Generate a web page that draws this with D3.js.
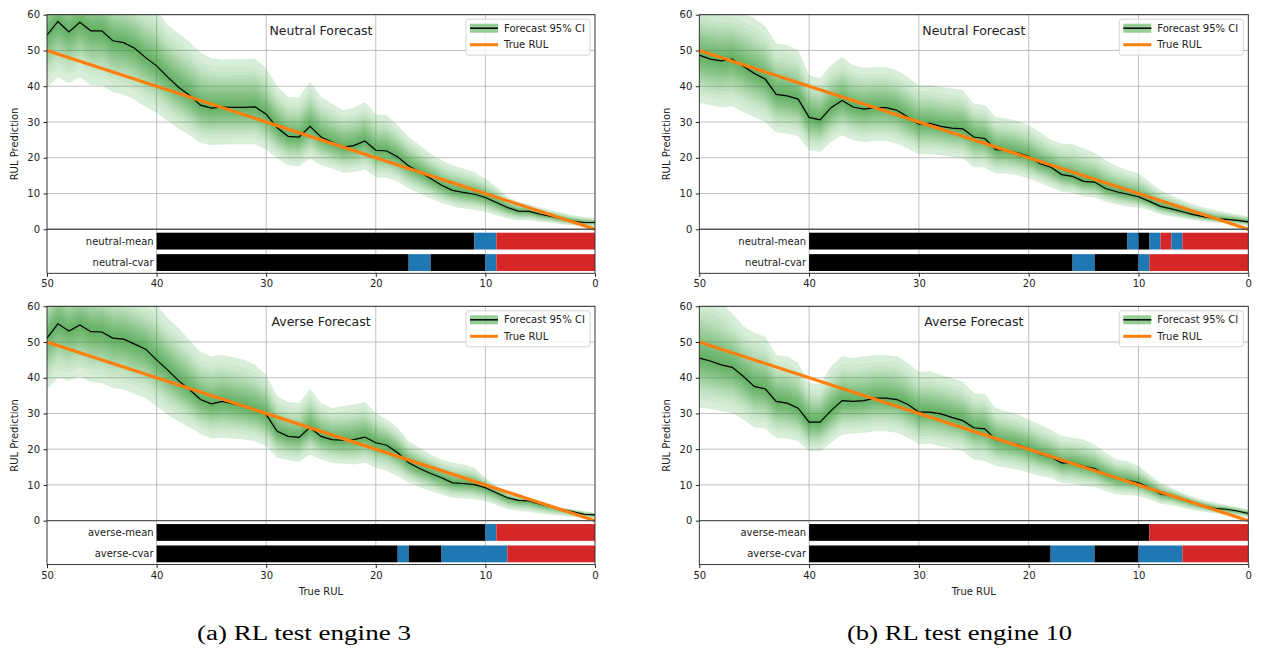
<!DOCTYPE html>
<meta charset="utf-8">
<style>
body { margin: 0; background: #fff; }
text { font-family: "DejaVu Sans", sans-serif; fill: #222; }
.caption { font-family: "Liberation Serif", serif; font-size: 20.5px; fill: #000; }
</style>
<svg width="1261" height="648"></svg>
<script src="https://d3js.org/d3.v7.min.js"></script>
<script>
// RUL steps along the x axis (left = 50, right = 0)
var rulSteps = [50,49,48,47,46,45,44,43,42,41,40,39,38,37,36,35,34,33,32,31,30,29,28,27,26,25,24,23,22,21,20,19,18,17,16,15,14,13,12,11,10,9,8,7,6,5,4,3,2,1,0];
var trueRulEnds = [50, 0];

// engine 3, neutral forecast
var e3NeutralMean = [54.3,58.1,55.2,57.9,55.5,55.5,52.7,52.2,50.6,48.0, 45.7,42.6,39.7,37.5,34.7,33.9,34.2,34.1,34.1,34.2, 32.2,28.4,26.0,25.8,28.8,25.8,24.4,23.0,23.4,24.7, 22.1,21.9,20.2,17.7,16.0,14.2,12.3,10.9,10.3,9.8, 8.9,7.5,6.1,5.1,5.0,4.2,3.6,2.9,2.3,1.9, 1.9];
var e3NeutralUpper = [69,73.5,69.6,73.2,70.7,70.7,67,66.7,64.9,63, 61.5,57.1,54.8,52.4,49.4,47.8,47.5,47.6,47.6,47.7, 45.0,40.0,37.0,36.9,41.2,37.0,35.2,33.3,34.0,35.6, 32.2,31.9,29.1,25.8,23.5,21.2,19.3,17.9,17.0,16.0, 14.2,11.9,9.1,7.7,7.0,6.1,5.3,4.6,3.9,3.5, 3.0];
var e3NeutralLower = [39.7,42.6,40.8,42.6,40.3,40.3,38.4,37.7,36.3,34.2, 32.6,30.3,28.2,26.3,24.2,23.5,23.7,23.8,23.8,23.8, 22.3,19.8,17.9,17.6,19.8,17.9,17.0,15.8,16.0,16.7, 14.6,14.4,13.3,11.4,10.0,8.6,7.4,6.4,5.8,5.5, 4.9,3.9,3.0,2.5,2.5,2.1,1.8,1.4,1.1,0.8, 0.7];

// engine 10, neutral forecast
var e10NeutralMean = [48.7,47.6,47.1,47.6,45.6,43.6,42.0,37.7,37.3,36.4, 31.3,30.6,34.0,36.0,34.2,33.6,34.0,34.0,33.3,31.4, 29.4,29.6,28.8,28.3,28.1,25.8,25.4,22.3,22.1,21.4, 20.4,18.4,17.4,15.3,14.8,13.4,13.2,11.4,10.5,9.8, 9.1,7.8,6.4,5.7,4.9,4.1,3.5,3.0,2.8,2.5, 2.1];
var e10NeutralUpper = [63,62.5,62,61.5,60.5,59.0,56.8,52.0,51.5,50.1, 43.1,42.2,45.9,48.2,45.9,45.2,45.4,45.4,44.5,42.5, 40.3,40.3,39.8,39.4,38.9,35.2,34.7,31.4,31.0,30.3, 29.1,27.2,25.1,24.0,23.8,22.6,21.4,19.3,17.7,16.5, 15.6,13.3,10.9,9.5,8.1,7.0,6.1,5.3,4.7,4.2, 3.6];
var e10NeutralLower = [35.4,34.7,34.1,34.4,32.8,31.4,30.0,27.1,26.8,26.0, 22.1,21.6,24.4,26.3,24.9,24.4,24.7,24.7,24.0,22.6, 21.0,21.0,20.7,20.2,19.8,17.4,17.3,15.6,15.6,15.1, 14.2,13.0,11.7,10.5,10.2,9.2,8.9,7.7,7.0,6.4, 6.1,5.3,4.2,3.6,3.0,2.5,2.2,1.8,1.6,1.3, 1.0];

// engine 3, averse forecast
var e3AverseMean = [51.1,55.1,53.1,54.8,52.9,52.8,51.1,50.8,49.4,48.0, 45.0,42.2,39.2,36.7,33.9,32.7,33.4,32.7,32.0,31.1, 29.7,25.0,23.6,23.3,26.1,23.6,22.7,22.5,22.7,23.4, 21.8,21.1,19.0,16.2,14.6,13.2,12.0,10.6,10.4,10.1, 9.2,7.8,6.4,5.7,5.5,4.6,3.9,3.2,2.5,1.8, 1.6];
var e3AverseUpper = [65.5,70,67,69,67,67,65,65,63.5,62, 60.5,56.7,53.9,50.6,47.2,46.0,46.4,45.7,45.0,43.6, 40.8,34.8,33.2,32.9,36.9,32.9,31.5,32.0,32.5,33.2, 30.1,28.3,26.0,22.2,20.4,18.5,17.1,16.2,15.7,14.8, 12.0,9.7,7.8,6.9,6.2,5.0,4.3,3.6,3.2,2.7, 2.2];
var e3AverseLower = [36.7,39.9,39.2,40.4,38.8,38.5,37.1,36.7,35.4,34.3, 32.0,29.7,27.8,26.1,24.3,23.0,23.2,23.0,22.7,22.2, 20.8,17.6,16.9,16.5,18.5,17.1,16.2,15.9,15.7,16.2, 14.8,13.9,12.5,10.6,9.4,8.3,7.3,6.4,6.2,6.0, 5.5,4.4,3.2,2.7,2.5,2.0,1.6,1.3,1.0,0.8, 0.7];

// engine 10, averse forecast
var e10AverseMean = [45.5,44.7,43.6,42.9,40.4,37.6,36.9,33.4,32.9,31.5, 27.6,27.6,30.8,33.6,33.4,33.6,34.3,34.3,33.9,32.5, 30.4,30.4,29.9,28.9,28.0,26.0,25.7,22.7,22.0,21.3, 20.2,18.7,17.8,16.2,16.2,15.3,14.6,12.9,11.8,11.3, 10.6,9.2,7.5,6.9,6.0,5.0,4.1,3.4,3.2,2.7, 2.0];
var e10AverseUpper = [64,63,61,58,54.5,52.5,51.5,46.4,46.0,44.1, 38.5,38.2,43.2,46.0,45.5,46.0,46.4,46.4,46.0,44.1, 41.6,41.8,40.8,39.9,38.8,35.7,35.4,31.5,30.6,29.7, 28.3,26.9,25.5,23.6,23.2,22.7,21.3,19.0,17.1,16.7, 15.3,12.9,10.6,9.2,7.8,6.6,5.7,5.0,4.4,3.8, 3.2];
var e10AverseLower = [31.7,31.3,30.6,30.1,28.3,26.1,25.8,23.2,23.0,22.2, 19.4,19.4,21.8,24.1,24.3,24.6,25.0,25.0,24.6,23.2, 21.3,21.5,20.8,20.2,19.4,17.1,16.7,15.3,14.8,14.3, 13.4,12.5,12.0,10.6,10.3,9.7,9.4,8.3,7.3,7.2, 6.9,6.0,4.7,4.4,3.6,2.9,2.5,2.0,1.6,1.3, 1.0];

// policy strips: [from RUL, to RUL, action index]
var actionColors = ["#000000", "#1f77b4", "#d62728"];
var e3NeutralMeanActs = [[40,11,0],[11,9,1],[9,0,2]];
var e3NeutralCvarActs = [[40,17,0],[17,15,1],[15,10,0],[10,9,1],[9,0,2]];
var e10NeutralMeanActs = [[40,11,0],[11,10,1],[10,9,0],[9,8,1],[8,7,2],[7,6,1],[6,0,2]];
var e10NeutralCvarActs = [[40,16,0],[16,14,1],[14,10,0],[10,9,1],[9,0,2]];
var e3AverseMeanActs = [[40,10,0],[10,9,1],[9,0,2]];
var e3AverseCvarActs = [[40,18,0],[18,17,1],[17,14,0],[14,8,1],[8,0,2]];
var e10AverseMeanActs = [[40,9,0],[9,0,2]];
var e10AverseCvarActs = [[40,18,0],[18,14,1],[14,10,0],[10,6,1],[6,0,2]];

var yTicks = [0,10,20,30,40,50,60];
var xTicks = [50,40,30,20,10,0];
var captions = ["(a) RL test engine 3", "(b) RL test engine 10"];

// shading levels: normal z of 5%..95% intervals divided by z(95%)
var bandZ = [0.0627,0.1257,0.1891,0.2533,0.3186,0.3853,0.4538,0.5244,0.5978,0.6745,0.7554,0.8416,0.9346,1.0364,1.1503,1.2816,1.4395,1.6449,1.96];

var svg = d3.select("svg");
var cols = [{x0: 47, x1: 595}, {x0: 699.3, x1: 1248.3}];
var rows = [{y0: 14.7, y1: 273.3}, {y0: 306.3, y1: 564.6}];

var panels = [
	{col: 0, row: 0, title: "Neutral Forecast", prefix: "neutral", mean: e3NeutralMean, upper: e3NeutralUpper, lower: e3NeutralLower, acts: [e3NeutralMeanActs, e3NeutralCvarActs]},
	{col: 1, row: 0, title: "Neutral Forecast", prefix: "neutral", mean: e10NeutralMean, upper: e10NeutralUpper, lower: e10NeutralLower, acts: [e10NeutralMeanActs, e10NeutralCvarActs]},
	{col: 0, row: 1, title: "Averse Forecast", prefix: "averse", mean: e3AverseMean, upper: e3AverseUpper, lower: e3AverseLower, acts: [e3AverseMeanActs, e3AverseCvarActs]},
	{col: 1, row: 1, title: "Averse Forecast", prefix: "averse", mean: e10AverseMean, upper: e10AverseUpper, lower: e10AverseLower, acts: [e10AverseMeanActs, e10AverseCvarActs]}
];

panels.forEach(function(p, pi) {
	var c = cols[p.col], r = rows[p.row];
	var x = d3.scaleLinear().domain([50, 0]).range([c.x0, c.x1]);
	var y = d3.scaleLinear().domain([-12.3, 60]).range([r.y1, r.y0]);
	var g = svg.append("g");
	var clipId = "clip" + pi;
	g.append("clipPath").attr("id", clipId)
		.append("rect").attr("x", c.x0).attr("y", r.y0).attr("width", c.x1 - c.x0).attr("height", r.y1 - r.y0);

	// grid
	g.selectAll(".hg").data(yTicks.slice(1)).enter().append("line")
		.attr("x1", c.x0).attr("x2", c.x1)
		.attr("y1", function(d) { return y(d); }).attr("y2", function(d) { return y(d); })
		.style("stroke", "#b0b0b0").style("stroke-width", 0.8);
	g.selectAll(".vg").data(xTicks.slice(1, -1)).enter().append("line")
		.attr("y1", r.y0).attr("y2", r.y1)
		.attr("x1", function(d) { return x(d); }).attr("x2", function(d) { return x(d); })
		.style("stroke", "#b0b0b0").style("stroke-width", 0.8);

	var plot = g.append("g").attr("clip-path", "url(#" + clipId + ")");

	// layered CI shading, outermost first
	for (var k = bandZ.length - 1; k >= 0; k--) {
		var f = bandZ[k] / 1.96;
		var area = d3.area()
			.x(function(d, i) { return x(rulSteps[i]); })
			.y0(function(d, i) { return y(p.mean[i] - f * (p.mean[i] - p.lower[i])); })
			.y1(function(d, i) { return y(p.mean[i] + f * (p.upper[i] - p.mean[i])); });
		plot.append("path").datum(p.mean).attr("d", area)
			.style("fill", "#2ca02c").style("fill-opacity", k === bandZ.length - 1 ? 0.18 : 0.06);
	}

	plot.append("path").datum(p.mean)
		.attr("d", d3.line().x(function(d, i) { return x(rulSteps[i]); }).y(function(d) { return y(d); }))
		.style("fill", "none").style("stroke", "#000").style("stroke-width", 1.2);

	plot.append("path").datum(trueRulEnds)
		.attr("d", d3.line().x(function(d) { return x(d); }).y(function(d) { return y(d); }))
		.style("fill", "none").style("stroke", "#ff7f0e").style("stroke-width", 3.2);

	// zero separator
	g.append("line").attr("x1", c.x0).attr("x2", c.x1).attr("y1", y(0)).attr("y2", y(0))
		.style("stroke", "#555").style("stroke-width", 1.4);

	// policy strips
	var rowCenters = [-3.3, -9.3];
	p.acts.forEach(function(segs, ri) {
		g.selectAll(null).data(segs).enter().append("rect")
			.attr("x", function(d) { return x(d[0]); })
			.attr("width", function(d) { return x(d[1]) - x(d[0]); })
			.attr("y", y(rowCenters[ri] + 2.35))
			.attr("height", y(rowCenters[ri] - 2.35) - y(rowCenters[ri] + 2.35))
			.style("fill", function(d) { return actionColors[d[2]]; });
		g.append("text")
			.attr("x", x(40) - 3).attr("y", y(rowCenters[ri])).attr("dy", "0.35em")
			.style("text-anchor", "end").style("font-size", "10px")
			.text(p.prefix + (ri === 0 ? "-mean" : "-cvar"));
	});

	// frame
	g.append("rect").attr("x", c.x0).attr("y", r.y0).attr("width", c.x1 - c.x0).attr("height", r.y1 - r.y0)
		.style("fill", "none").style("stroke", "#222").style("stroke-width", 0.9);

	// axes
	var ya = g.append("g").attr("transform", "translate(" + c.x0 + ",0)")
		.call(d3.axisLeft(y).tickValues(yTicks).tickSize(3.5).tickPadding(3.5));
	var xa = g.append("g").attr("transform", "translate(0," + r.y1 + ")")
		.call(d3.axisBottom(x).tickValues(xTicks).tickSize(3.5).tickPadding(3.5));
	[ya, xa].forEach(function(a) {
		a.select(".domain").remove();
		a.selectAll("line").style("stroke", "#222");
		a.selectAll("text").style("font-size", "10px").style("font-family", "DejaVu Sans, sans-serif").style("fill", "#222");
	});

	g.append("text")
		.attr("transform", "translate(" + (c.x0 - 29) + "," + ((r.y0 + r.y1) / 2) + ") rotate(-90)")
		.style("text-anchor", "middle").style("font-size", "10px")
		.text("RUL Prediction");
	if (p.row === 1) {
		g.append("text").attr("x", (c.x0 + c.x1) / 2).attr("y", r.y1 + 30.5)
			.style("text-anchor", "middle").style("font-size", "10px").text("True RUL");
	}

	g.append("text").attr("x", (c.x0 + c.x1) / 2).attr("y", r.y0 + 20)
		.style("text-anchor", "middle").style("font-size", "12.5px").text(p.title);

	// legend
	var lx = c.x1 - 129, ly = r.y0 + 4.5;
	var lg = g.append("g").attr("transform", "translate(" + lx + "," + ly + ")");
	lg.append("rect").attr("width", 124).attr("height", 36).attr("rx", 2.5)
		.style("fill", "#fff").style("fill-opacity", 0.8).style("stroke", "#d0d0d0").style("stroke-width", 0.9);
	lg.append("rect").attr("x", 4).attr("y", 4.5).attr("width", 28).attr("height", 9)
		.style("fill", "#2ca02c").style("fill-opacity", 0.5);
	lg.append("line").attr("x1", 4).attr("x2", 32).attr("y1", 9).attr("y2", 9)
		.style("stroke", "#000").style("stroke-width", 1.5);
	lg.append("line").attr("x1", 4).attr("x2", 32).attr("y1", 25.5).attr("y2", 25.5)
		.style("stroke", "#ff7f0e").style("stroke-width", 3);
	lg.append("text").attr("x", 38).attr("y", 9).attr("dy", "0.35em").style("font-size", "10px").text("Forecast 95% CI");
	lg.append("text").attr("x", 38).attr("y", 25.5).attr("dy", "0.35em").style("font-size", "10px").text("True RUL");
});

svg.selectAll(".caption").data(captions).enter().append("text")
	.attr("class", "caption")
	.attr("x", function(d, i) { return i === 0 ? 304 : 959.5; })
	.attr("y", 640)
	.attr("textLength", function(d, i) { return i === 0 ? 214 : 225; })
	.attr("lengthAdjust", "spacingAndGlyphs")
	.style("text-anchor", "middle")
	.text(function(d) { return d; });
</script>
